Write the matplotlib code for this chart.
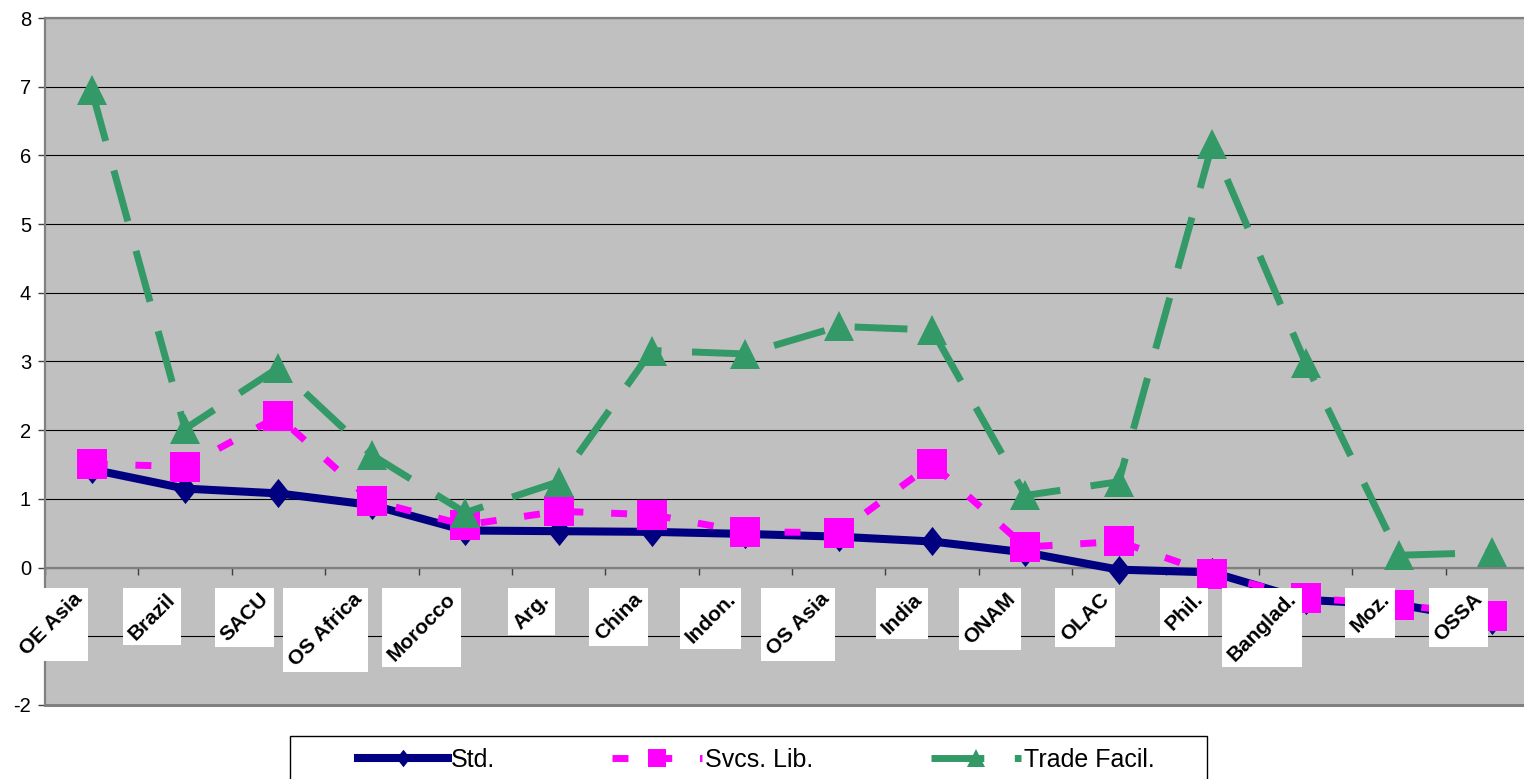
import numpy as np
import matplotlib
matplotlib.use('Agg')
import matplotlib.pyplot as plt
from matplotlib.patches import Rectangle
from matplotlib.path import Path
from matplotlib.transforms import offset_copy

plt.rcParams['font.family'] = ['Liberation Sans', 'DejaVu Sans']

# regions along the x axis
cats = ['OE Asia', 'Brazil', 'SACU', 'OS Africa', 'Morocco', 'Arg.', 'China', 'Indon.',
        'OS Asia', 'India', 'ONAM', 'OLAC', 'Phil.', 'Banglad.', 'Moz.', 'OSSA']

std = [1.43, 1.15, 1.08, 0.91, 0.54, 0.53, 0.52, 0.49, 0.45, 0.38, 0.22, -0.03, -0.07, -0.47, -0.54, -0.77]
svcs = [1.51, 1.47, 2.20, 0.97, 0.62, 0.82, 0.77, 0.52, 0.51, 1.51, 0.30, 0.38, -0.09, -0.44, -0.54, -0.70]
trade = [6.95, 2.02, 2.91, 1.64, 0.80, 1.25, 3.16, 3.11, 3.51, 3.46, 1.05, 1.25, 6.16, 2.98, 0.18, 0.22]

yticks = [-2, -1, 0, 1, 2, 3, 4, 5, 6, 7, 8]

W, H = 1524, 779
fig = plt.figure(figsize=(W / 100, H / 100), dpi=100)
ax = fig.add_axes([45 / W, 1 - 705 / H, (1539 - 45) / W, (705 - 18) / H])
ax.set_facecolor('#C0C0C0')

x = np.arange(len(cats))

# tall diamond marker
diamond = Path([(0, 1), (0.8, 0), (0, -1), (-0.8, 0), (0, 1)],
               [Path.MOVETO, Path.LINETO, Path.LINETO, Path.LINETO, Path.CLOSEPOLY])

l1, = ax.plot(x, std, color='#000080', lw=5.8, marker=diamond, ms=21, mew=0,
              solid_joinstyle='miter', label='Std.', zorder=3)
l2, = ax.plot(x, svcs, color='#FF00FF', lw=5, ls=(0, (2.3, 4.0)), marker='s', ms=21, mew=0,
              label='Svcs. Lib.', zorder=3)
l3, = ax.plot(x, trade, color='#339966', lw=5, ls=(0, (7.6, 4.4)), marker='^', ms=21, mew=0,
              label='Trade Facil.', zorder=3)

ax.set_xlim(-0.5, 15.5)
ax.set_ylim(-2, 8)
ax.set_yticks(yticks)
ax.set_yticklabels([str(v) for v in yticks], fontsize=14.5)
ax.set_xticks(np.arange(-0.5, 16, 1))
ax.set_xticklabels([])
ax.tick_params(axis='y', direction='out', length=5, width=1, color='#404040', pad=5)
ax.tick_params(axis='x', direction='out', length=5, width=1, color='#404040')

ax.yaxis.grid(True, color='black', lw=0.8)
ax.set_axisbelow(True)

ax.spines['bottom'].set_position(('data', 0))
ax.spines['bottom'].set_color('#808080')
ax.spines['bottom'].set_linewidth(1.6)
ax.spines['left'].set_color('#808080')
ax.spines['left'].set_linewidth(1.6)
ax.spines['top'].set_color('#808080')
ax.spines['top'].set_linewidth(1.6)
ax.spines['right'].set_visible(False)
ax.axhline(-2, color='#808080', lw=2.2, clip_on=False, zorder=2.5)

# category labels in white boxes
trans = offset_copy(ax.transData, fig=fig, x=-6, y=0, units='dots')
texts = []
for i, lab in enumerate(cats):
    t = ax.text(i, -0.32, lab, rotation=45, ha='right', va='top', fontsize=15,
                fontweight='bold', transform=trans, zorder=7, clip_on=False)
    texts.append(t)

fig.canvas.draw()
renderer = fig.canvas.get_renderer()
inv = ax.transData.inverted()
pad = 2
for t in texts:
    bb = t.get_window_extent(renderer)
    x0, y0 = inv.transform((bb.x0 - pad, bb.y0 - pad))
    x1, y1 = inv.transform((bb.x1 + pad, bb.y1 + pad))
    ax.add_patch(Rectangle((x0, y0), x1 - x0, y1 - y0, facecolor='white',
                           edgecolor='none', zorder=6, clip_on=False))

# legend with a box running off the bottom
fig.patches.append(Rectangle((290 / W, -0.05), 917 / W, (1 - 736 / H) + 0.05,
                             transform=fig.transFigure, facecolor='white',
                             edgecolor='black', lw=1, zorder=1))
fig.legend(handles=[l1, l2, l3], loc='center left', bbox_to_anchor=(345 / W, 1 - 760 / H),
           ncol=3, frameon=False, fontsize=18, handlelength=3.6, handletextpad=0.12,
           columnspacing=4.7, borderpad=0, markerscale=0.6)

plt.savefig('out.png', dpi=100)
